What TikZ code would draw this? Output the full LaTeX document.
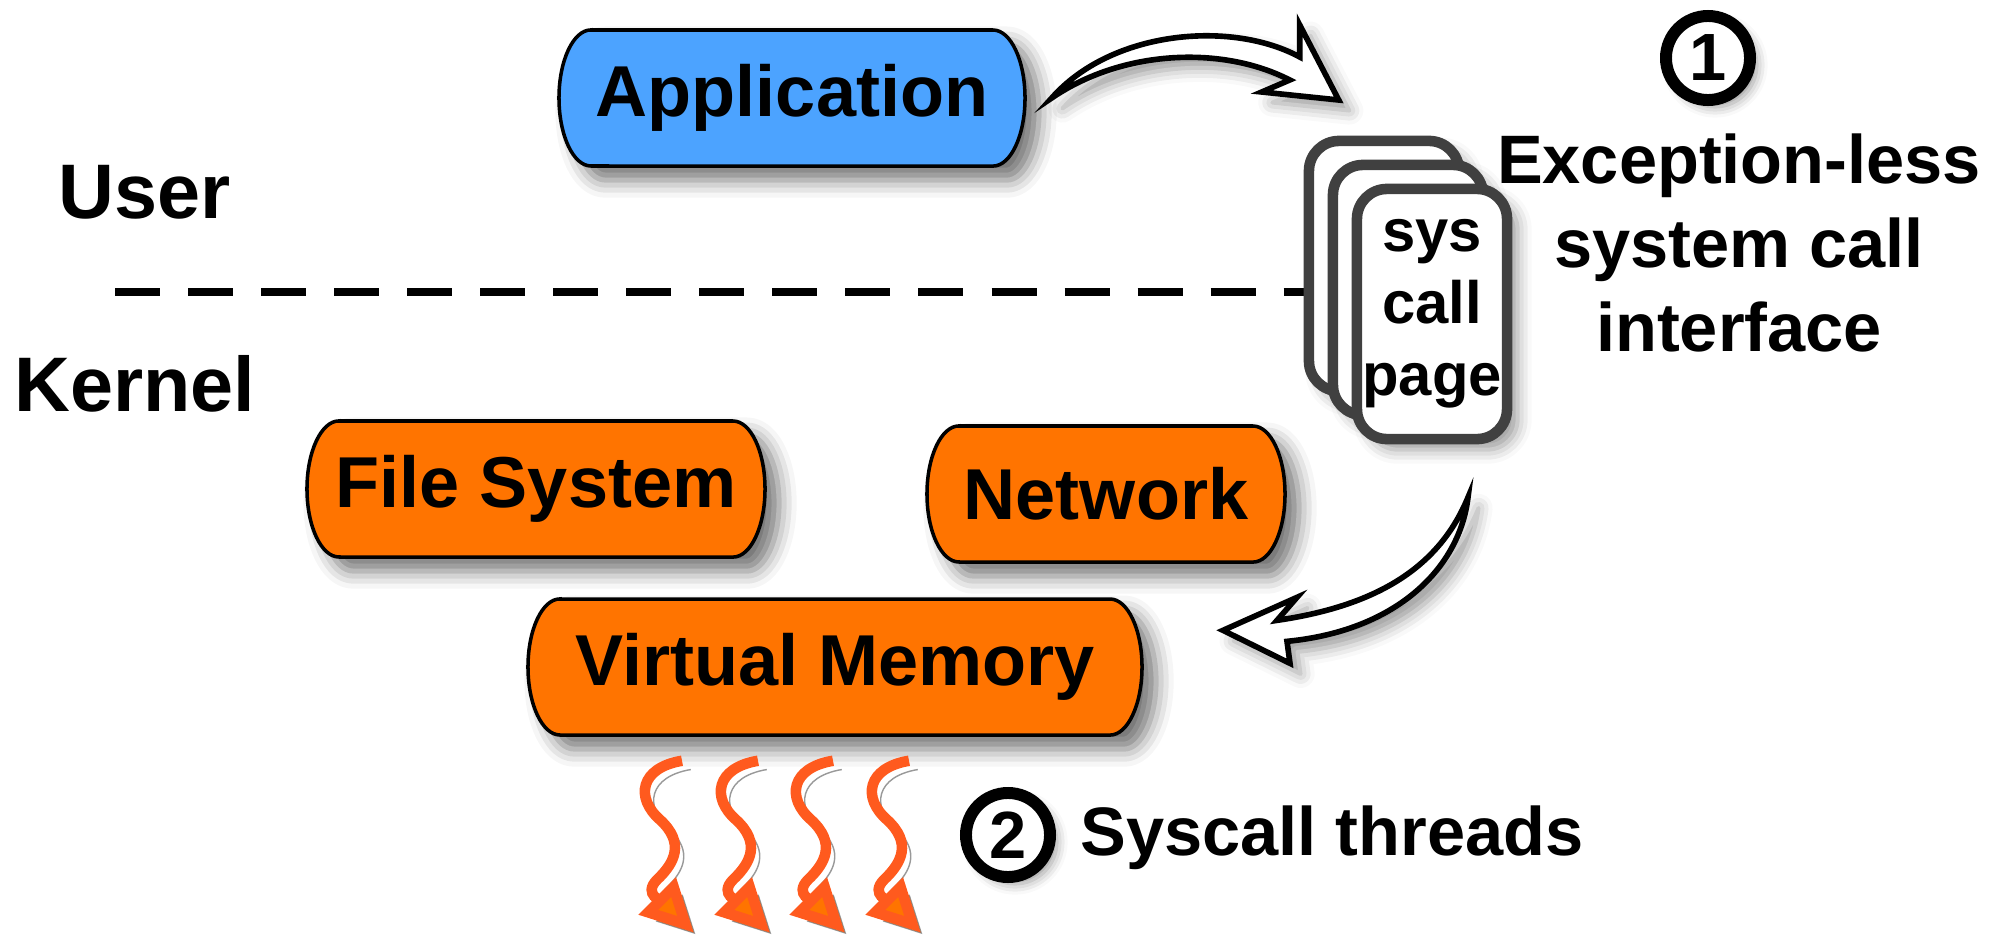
\documentclass[tikz,border=0pt]{standalone}
\usepackage{fontspec}
\setmainfont{Liberation Sans}
\usetikzlibrary{shadows.blur,arrows.meta}

\definecolor{appblue}{HTML}{4CA3FF}
\definecolor{kernorange}{HTML}{FF7400}
\definecolor{threadred}{HTML}{FF5A1E}
\definecolor{pagegray}{HTML}{404040}

% outline with elliptic ends, then the named label node on top
\newcommand{\layerbox}[6]{%
  \draw[layerbox, fill=#2] (#3-#5/2,#4-68) -- (#3+#5/2,#4-68)
    arc[start angle=90, end angle=-90, x radius=0.32cm, y radius=0.68cm]
    -- (#3-#5/2,#4+68)
    arc[start angle=270, end angle=90, x radius=0.32cm, y radius=0.68cm] -- cycle;
  \node[layer, minimum width=#5*0.01cm] (#1) at (#3,#4) {#6};}

\tikzset{
  layer/.style={rectangle, inner sep=0pt, minimum height=1.36cm,
    font=\fontsize{20.5}{24}\selectfont\bfseries},
  layerbox/.style={draw, line width=1pt,
    blur shadow={shadow xshift=4pt, shadow yshift=-4pt, shadow blur radius=5pt, shadow opacity=55}},
  scpage/.style={draw=pagegray, fill=white, line width=3pt, rounded corners=0.3cm,
    minimum width=1.5cm, minimum height=2.5cm, inner sep=0pt, align=center,
    font=\fontsize{17}{20.5}\selectfont\bfseries,
    blur shadow={shadow xshift=3pt, shadow yshift=-3pt, shadow blur radius=4pt}},
  bubble/.style={circle, draw, line width=3.4pt, fill=white, minimum size=0.84cm, inner sep=0pt,
    font=\fontsize{19}{19}\selectfont\bfseries,
    blur shadow={shadow xshift=2pt, shadow yshift=-2pt, shadow blur radius=3pt}},
  bigarrow/.style={draw, fill=white, line width=1.6pt, line join=miter,
    blur shadow={shadow xshift=3pt, shadow yshift=-3pt, shadow blur radius=4pt}},
  thread/.style={draw=threadred, line width=3pt,
    -{Triangle[length=0.52cm, width=0.5cm, fill=kernorange]},
    preaction={draw=black, opacity=0.4, transform canvas={xshift=2.5pt, yshift=-2.5pt}}},
  sidetext/.style={font=\fontsize{19.5}{24}\selectfont\bfseries, align=center},
  divider/.style={line width=2.5pt, dash pattern=on 0.45cm off 0.28cm}
}

\begin{document}
\begin{tikzpicture}[x=0.01cm, y=-0.01cm]
\useasboundingbox (0,0) rectangle (2005,939);

% user / kernel split
\coordinate (splitL) at (115,292);
\coordinate (splitR) at (1310,292);
\draw[divider] (splitL) -- (splitR);

\node[sidetext, font=\fontsize{22}{24}\selectfont\bfseries, anchor=west] (user) at (46,192) {User};
\node[sidetext, font=\fontsize{22}{24}\selectfont\bfseries, anchor=west] (kernel) at (2,384) {Kernel};

\layerbox{app}{appblue}{792}{98}{402}{Application}
\layerbox{fs}{kernorange}{536}{489}{394}{File System}
\layerbox{net}{kernorange}{1106}{494}{294}{Network}
\layerbox{vm}{kernorange}{835}{667}{550}{Virtual Memory}

% stacked syscall pages
\node[scpage] (pageA) at (1384,266) {};
\node[scpage] (pageB) at ([shift={(24,24)}]pageA.center) {};
\node[scpage] (pageC) at ([shift={(24,24)}]pageB.center) {sys\\call\\page};

\node[bubble] (one) at (1708,58) {1};
\node[sidetext] (iface) at (1739,243) {Exception-less\\system call\\interface};

\node[bubble] (two) at (1008,835) {2};
\node[sidetext, anchor=west] (threads) at (1068,838) {Syscall threads};

% big arrows
\coordinate (a1) at ([xshift=0.58cm]app.east);
\begin{scope}[shift={(a1)}]
\draw[bigarrow] (0,0) .. controls (60,-68) and (180,-78) .. (248,-41) -- (248,-73) -- (287,2)
  -- (210,-6) -- (238,-18) .. controls (170,-53) and (70,-48) .. (0,0) -- cycle;
\end{scope}

\coordinate (a2) at ([shift={(36,53)}]pageC.south);
\begin{scope}[shift={(a2)}]
\draw[bigarrow] (0,0) .. controls (-28,68) and (-88,108) .. (-191,123) -- (-171,100) -- (-245,133)
  -- (-178,166) -- (-181,144) .. controls (-68,133) and (-8,68) .. (0,0) -- cycle;
\end{scope}

% syscall threads
\begin{scope}[shift={(vm.south)}]
\foreach \dx in {0,76,151,227}
  \draw[thread] (\dx-153,25) .. controls (\dx-195,32) and (\dx-200,62) .. (\dx-175,84)
    .. controls (\dx-150,107) and (\dx-160,127) .. (\dx-178,144)
    .. controls (\dx-193,159) and (\dx-171,167) .. (\dx-141,197);
\end{scope}

\end{tikzpicture}
\end{document}
